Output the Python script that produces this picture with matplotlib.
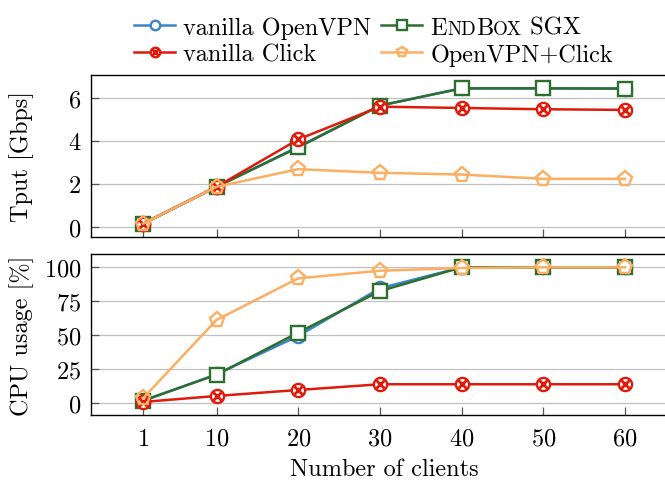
import matplotlib
matplotlib.use('Agg')
import matplotlib.pyplot as plt
from matplotlib.offsetbox import TextArea, HPacker
from matplotlib.legend_handler import HandlerTuple

clients = [1, 10, 20, 30, 40, 50, 60]

# throughput [Gbps]
tput_openvpn = [0.15, 1.86, 3.72, 5.63, 6.43, 6.43, 6.42]
tput_endbox = [0.15, 1.86, 3.69, 5.63, 6.43, 6.43, 6.42]
tput_click = [0.15, 1.86, 4.06, 5.58, 5.52, 5.46, 5.43]
tput_combo = [0.15, 1.86, 2.68, 2.51, 2.43, 2.23, 2.23]

# cpu usage [%]
cpu_openvpn = [1.7, 21.3, 49.5, 84.6, 100, 100, 100]
cpu_endbox = [2.0, 21.0, 52.0, 82.5, 100, 100, 100]
cpu_click = [1.0, 5.4, 9.8, 14.0, 14.0, 14.0, 14.0]
cpu_combo = [3.7, 61.3, 91.9, 97.5, 99.5, 100, 100]

c_blue = '#3a85c8'
c_green = '#2e6e2e'
c_red = '#e01a0a'
c_orange = '#fdae61'

plt.rcParams['font.family'] = ['cmr10', 'DejaVu Serif']
plt.rcParams['mathtext.fontset'] = 'cm'
plt.rcParams['axes.unicode_minus'] = False
plt.rcParams['axes.formatter.use_mathtext'] = True
fs = 17.5

fig = plt.figure(figsize=(6.65, 4.81), dpi=100)
W, H = 665.0, 481.0
ax1 = fig.add_axes([91 / W, 1 - 238 / H, 586 / W, 162 / H])
ax2 = fig.add_axes([91 / W, 1 - 416 / H, 586 / W, 161 / H])

lw = 1.8
ms = 9.5
mew = 1.7


def draw(ax, y_ovpn, y_endbox, y_click, y_combo):
    h1, = ax.plot(clients, y_ovpn, color=c_blue, lw=lw, marker='o', ms=ms,
                  mfc='white', mec=c_blue, mew=mew)
    h2, = ax.plot(clients, y_endbox, color=c_green, lw=lw, marker='s', ms=ms,
                  mfc='white', mec=c_green, mew=mew)
    h3, = ax.plot(clients, y_click, color=c_red, lw=lw, marker='o', ms=ms,
                  mfc='white', mec=c_red, mew=mew)
    h3x, = ax.plot(clients, y_click, ls='none', marker='x', ms=ms * 0.6,
                   mec=c_red, mew=mew * 1.2)
    h4, = ax.plot(clients, y_combo, color=c_orange, lw=lw, marker='p', ms=ms * 1.15,
                  mfc='none', mec=c_orange, mew=mew)
    return h1, h2, (h3, h3x), h4


handles = draw(ax1, tput_openvpn, tput_endbox, tput_click, tput_combo)
draw(ax2, cpu_openvpn, cpu_endbox, cpu_click, cpu_combo)

for ax in (ax1, ax2):
    ax.set_xlim(-5.36, 66.36)
    ax.set_xticks(clients)
    ax.grid(axis='y', color='#c0c0c0', lw=0.9)
    ax.set_axisbelow(True)
    ax.tick_params(axis='both', direction='in', labelsize=fs, length=6,
                   color='#555555', width=0.9)
    ax.tick_params(axis='y', right=True, pad=7)
    ax.tick_params(axis='x', pad=9)
    for s in ax.spines.values():
        s.set_linewidth(1.0)

ax1.set_ylim(-0.47, 7.05)
ax1.set_yticks([0, 2, 4, 6])
ax1.tick_params(axis='x', labelbottom=False)
ax1.set_ylabel('Tput [Gbps]', fontsize=fs)

ax2.set_ylim(-8.6, 109.8)
ax2.set_yticks([0, 25, 50, 75, 100])
ax2.set_ylabel('CPU usage [%]', fontsize=fs)
ax2.set_xlabel('Number of clients', fontsize=fs, labelpad=6)
ax1.yaxis.set_label_coords(-0.097, 0.5)
ax2.yaxis.set_label_coords(-0.097, 0.5)

# matplotlib fills legend columns first, so reorder to get rows like the original
leg_handles = [handles[0], handles[2], handles[1], handles[3]]
leg_labels = ['vanilla OpenVPN', 'vanilla Click', 'EndBox SGX', 'OpenVPN+Click']
leg = fig.legend(leg_handles, leg_labels, ncol=2, loc='upper center',
                 bbox_to_anchor=(373.5 / W, 1 - 5 / H), frameon=False,
                 fontsize=fs, handlelength=1.7, handletextpad=0.33,
                 columnspacing=0.4, labelspacing=0.18, borderpad=0,
                 markerscale=0.72,
                 handler_map={tuple: HandlerTuple(ndivide=1)})

# small caps for EndBox
for col in leg._legend_handle_box.get_children():
    for row in col.get_children():
        kids = row.get_children()
        if isinstance(kids[1], TextArea) and kids[1].get_text() == 'EndBox SGX':
            parts = [('E', fs), ('ND', fs * 0.78), ('B', fs), ('OX', fs * 0.78), (' SGX', fs)]
            box = HPacker(children=[TextArea(t, textprops=dict(fontsize=s)) for t, s in parts],
                          pad=0, sep=0, align='baseline')
            box.set_figure(fig)
            kids[1] = box

fig.savefig('out.png', dpi=100)
